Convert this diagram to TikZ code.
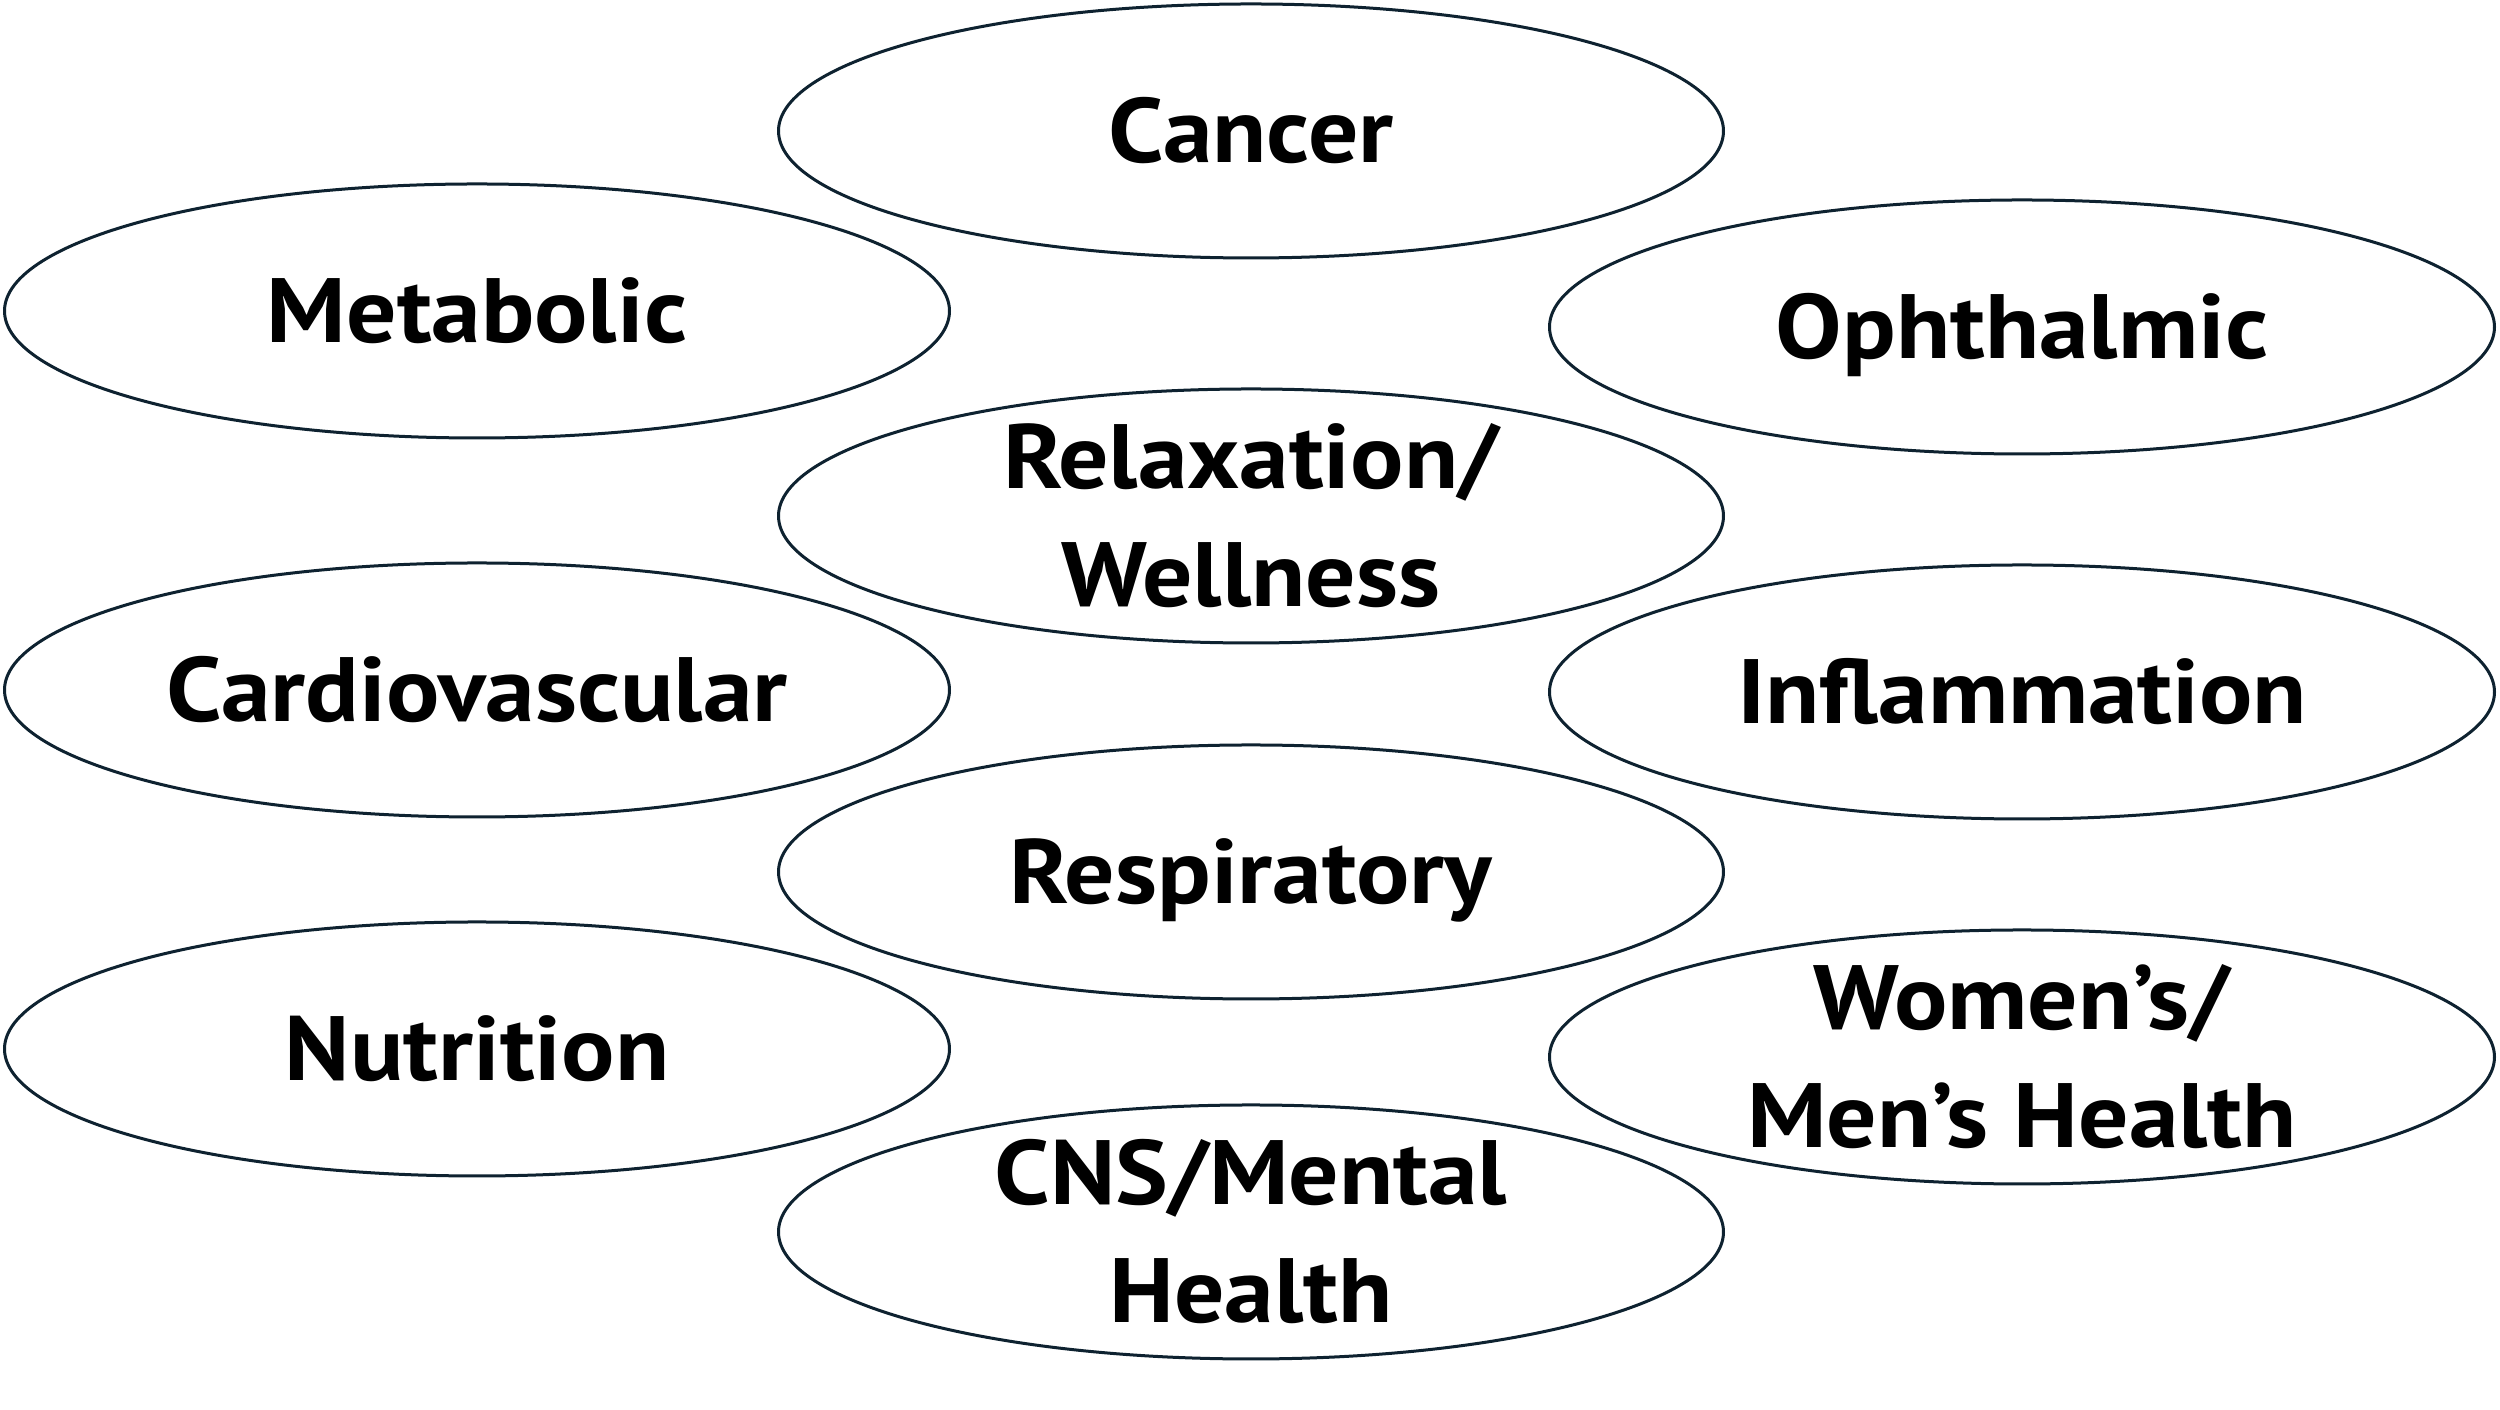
\documentclass[tikz,border=0pt]{standalone}
\usepackage{fontspec}
\setmainfont[FakeStretch=1.09]{PT Sans}
\usetikzlibrary{shapes.geometric}
\definecolor{edge}{RGB}{14,34,48}
\tikzset{
  blob/.style={ellipse, draw=edge, line width=0.9pt, fill=white,
    minimum width=283.5pt, minimum height=76.2pt, inner sep=0pt},
  lbl/.style={font=\bfseries\fontsize{27.4pt}{32pt}\selectfont,
    text height=19.2pt, text depth=0pt, inner sep=0pt, anchor=center},
  up/.style={yshift=17.7pt},
  down/.style={yshift=-17.7pt}
}
\begin{document}
\begin{tikzpicture}[x=0.3pt,y=0.3pt]
\useasboundingbox (0,0) rectangle (2500,1410);
% ellipses
\node[blob] (cancer) at (1251,1279) {};
\node[blob] (metab)  at (477,1099) {};
\node[blob] (ophth)  at (2022,1083) {};
\node[blob] (relax)  at (1251,894) {};
\node[blob] (cardio) at (477,720) {};
\node[blob] (inflam) at (2022,718) {};
\node[blob] (resp)   at (1251,538) {};
\node[blob] (nutr)   at (477,361) {};
\node[blob] (women)  at (2022,353) {};
\node[blob] (cns)    at (1251,178) {};
% labels
\node[lbl] (cancer-t) at (cancer.center) {Cancer};
\node[lbl] (metab-t)  at (metab.center) {Metabolic};
\node[lbl] (ophth-t)  at (ophth.center) {Ophthalmic};
\node[lbl,up]   (relax-t1) at (relax.center) {Relaxation/};
\node[lbl,down] (relax-t2) at (relax.center) {Wellness};
\node[lbl] (cardio-t) at (cardio.center) {Cardiovascular};
\node[lbl] (inflam-t) at (inflam.center) {Inflammation};
\node[lbl] (resp-t)   at (resp.center) {Respiratory};
\node[lbl] (nutr-t)   at (nutr.center) {Nutrition};
\node[lbl,up]   (women-t1) at (women.center) {Women’s/};
\node[lbl,down] (women-t2) at (women.center) {Men’s Health};
\node[lbl,up]   (cns-t1) at (cns.center) {CNS/Mental};
\node[lbl,down] (cns-t2) at (cns.center) {Health};
\end{tikzpicture}
\end{document}
